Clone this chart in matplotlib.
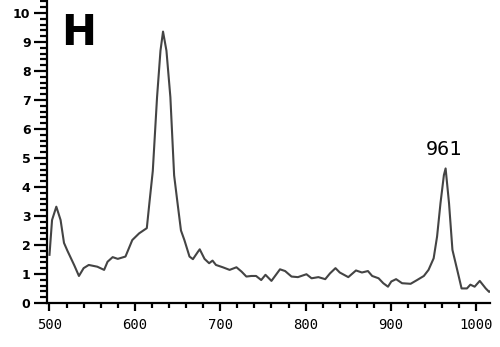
import matplotlib
matplotlib.use("Agg")
import matplotlib.pyplot as plt
from matplotlib.ticker import MultipleLocator
from matplotlib import font_manager

wavenumber = [500, 503, 508, 513, 517, 521, 525, 529, 534.5, 540, 546, 556, 564, 568, 574, 580, 589,
              597, 605, 614, 617, 621, 626, 630, 633, 637, 641.6, 646, 650, 654, 658, 664,
              668, 674, 676, 681.6, 687, 691, 695, 703, 711, 719, 725, 730.6, 736.5, 742,
              748, 753, 760, 770, 776, 783.5, 791, 801, 807, 815, 823, 828.6, 835, 840,
              850, 859, 866, 873, 878, 885.5, 891, 896.5, 900.4, 906, 913, 923, 930.6,
              938.5, 944, 950, 954, 958, 962, 964, 968, 972, 977.6, 982.7, 989, 993, 998,
              1004, 1011, 1015, 1018]
intensity = [1.66, 2.86, 3.32, 2.86, 2.07, 1.8, 1.55, 1.3, 0.93, 1.2, 1.31, 1.25, 1.14, 1.42, 1.58, 1.52, 1.6,
             2.17, 2.4, 2.58, 3.44, 4.55, 7.1, 8.7, 9.36, 8.7, 7.1, 4.4, 3.44, 2.5, 2.17, 1.6,
             1.51, 1.77, 1.85, 1.52, 1.37, 1.46, 1.31, 1.23, 1.14, 1.23, 1.08, 0.91, 0.93, 0.93,
             0.79, 0.97, 0.76, 1.16, 1.1, 0.91, 0.89, 0.99, 0.85, 0.89, 0.82, 1.02, 1.2, 1.05,
             0.89, 1.12, 1.05, 1.1, 0.93, 0.85, 0.68, 0.56, 0.74, 0.82, 0.68, 0.66, 0.79,
             0.93, 1.14, 1.54, 2.29, 3.44, 4.41, 4.64, 3.44, 1.83, 1.14, 0.5, 0.5, 0.63, 0.56,
             0.76, 0.5, 0.38, 0.45]

panel_label = "H"
peak_label = "961"
peak_pos = 964
x_ticks = [500, 600, 700, 800, 900, 1000]
y_ticks = list(range(0, 11))

mono = ["DejaVu Sans Mono", "Liberation Mono", "monospace"]

fig = plt.figure(figsize=(5.0, 3.47), dpi=100)
ax = fig.add_axes([0.093, 0.127, 0.887, 0.873])
ax.plot(wavenumber, intensity, color="#444444", lw=1.5)

ax.set_xlim(496.5, 1016)
ax.set_ylim(0, 10.45)
for s in ("top", "right"):
    ax.spines[s].set_visible(False)
for s in ("left", "bottom"):
    ax.spines[s].set_linewidth(1.6)

ax.set_xticks(x_ticks)
ax.xaxis.set_minor_locator(MultipleLocator(20))
ax.set_yticks(y_ticks)
ax.yaxis.set_minor_locator(MultipleLocator(0.2))
ax.tick_params(axis="y", which="major", direction="out", length=9.5, width=1.6, pad=2)
ax.tick_params(axis="y", which="minor", direction="out", length=5, width=1.6)
ax.tick_params(axis="x", which="major", direction="out", length=6, width=1.6, pad=5)
ax.tick_params(axis="x", which="minor", direction="out", length=3.5, width=1.6)
for lab in ax.get_yticklabels():
    lab.set_fontsize(9)
    lab.set_fontweight("bold")
for lab in ax.get_xticklabels():
    lab.set_fontsize(10)
    lab.set_family(mono)

ax.text(0.033, 0.962, panel_label, transform=ax.transAxes, fontsize=30,
        fontweight="bold", va="top", ha="left")
ax.text(peak_pos - 2, 4.95, peak_label, fontsize=14.5, family=mono,
        ha="center", va="bottom")

fig.savefig("out.png", dpi=100)
